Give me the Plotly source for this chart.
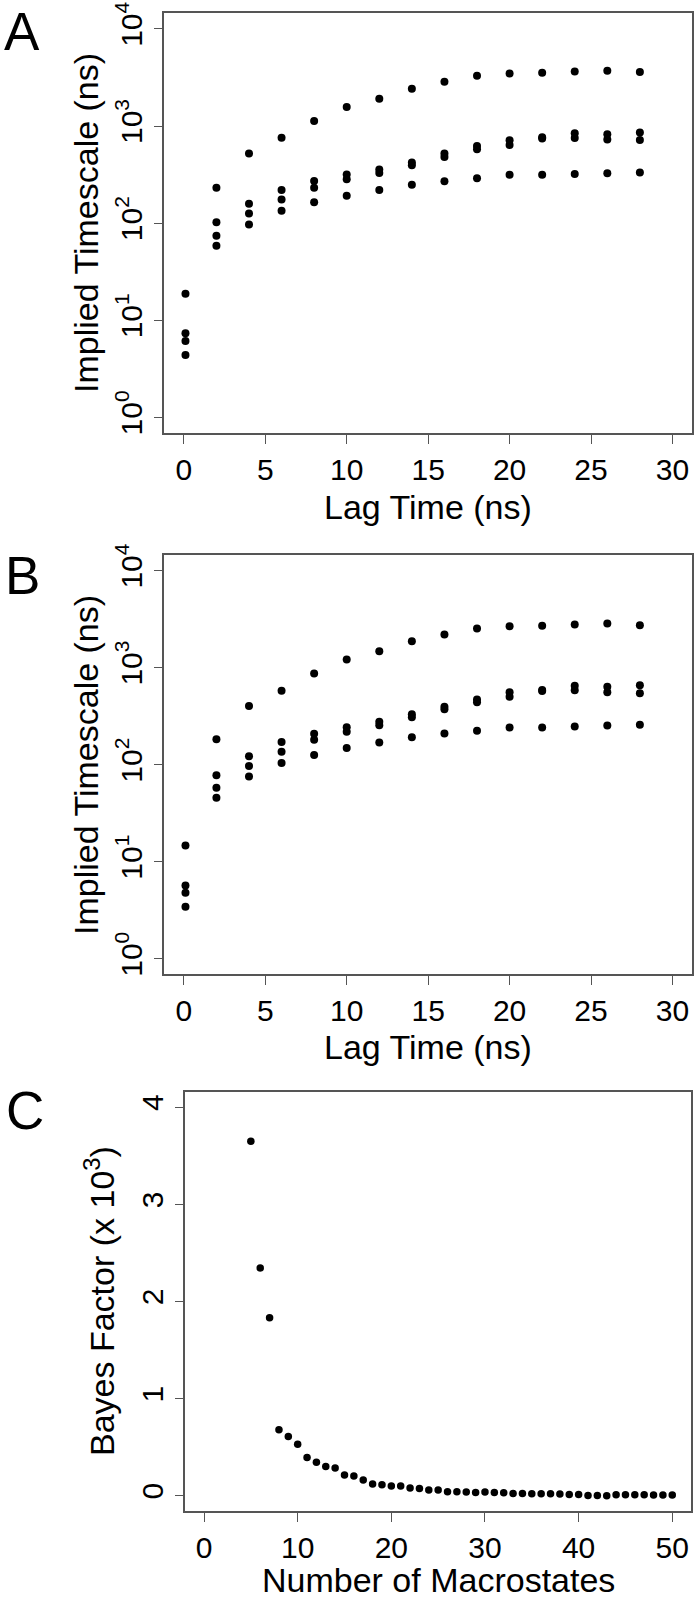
import plotly.graph_objects as go

# ---------------- data ----------------
lag_times = [0.1, 2, 4, 6, 8, 10, 12, 14, 16, 18, 20, 22, 24, 26, 28]

# Panel A: implied timescales (ns), four slowest processes
a_ts1 = [18.8, 232, 520, 759, 1125, 1567, 1910, 2421, 2853, 3289, 3478, 3533, 3648, 3700, 3590]
a_ts2 = [7.35, 102, 158, 220, 272, 316, 356, 420, 520, 624, 712, 765, 842, 820, 855]
a_ts3 = [6.12, 74, 126, 175, 232, 283, 329, 394, 481, 575, 638, 745, 753, 724, 718]
a_ts4 = [4.40, 58.5, 97, 134, 164, 191, 220, 249, 270, 290, 314, 314, 321, 326, 332]

# Panel B: implied timescales (ns)
b_ts1 = [14.7, 183, 403, 578, 871, 1213, 1477, 1870, 2189, 2522, 2666, 2706, 2773, 2838, 2728]
b_ts2 = [5.70, 77.8, 122, 171, 208, 243, 276, 331, 396, 468, 556, 587, 651, 636, 656]
b_ts3 = [4.79, 57.7, 96.9, 136, 180, 218, 255, 308, 372, 439, 502, 574, 584, 556, 543]
b_ts4 = [3.43, 45.5, 75.3, 104, 126, 148, 169, 191, 209, 223, 242, 242, 247, 253, 257]

# Panel C: Bayes factor (x 10^3) vs number of macrostates
macrostates = list(range(5, 51))
bayes_factor = [3.651, 2.346, 1.832, 0.679, 0.610, 0.531, 0.393, 0.345, 0.300, 0.286,
                0.214, 0.203, 0.162, 0.121, 0.114, 0.100, 0.100, 0.079, 0.076, 0.059,
                0.059, 0.041, 0.041, 0.038, 0.034, 0.038, 0.034, 0.031, 0.024, 0.024,
                0.021, 0.021, 0.021, 0.017, 0.014, 0.014, 0.002, 0.002, 0.0, 0.010,
                0.010, 0.010, 0.010, 0.007, 0.007, 0.007]

log_tickvals = [1, 10, 100, 1000, 10000]
log_ticktext = ["10<sup>0</sup>", "10<sup>1</sup>", "10<sup>2</sup>", "10<sup>3</sup>", "10<sup>4</sup>"]
x_ticks_ab = [0, 5, 10, 15, 20, 25, 30]
x_ticks_c = [0, 10, 20, 30, 40, 50]
y_ticks_c = [0, 1, 2, 3, 4]

# ---------------- figure ----------------
W, H = 698, 1600
FONT = "Liberation Sans, Arial, Helvetica, sans-serif"
LINE = "#555555"
marker = dict(color="black", size=8, line=dict(width=0))

fig = go.Figure()
for s in (a_ts1, a_ts2, a_ts3, a_ts4):
    fig.add_trace(go.Scatter(x=lag_times, y=s, mode="markers", marker=marker,
                             xaxis="x", yaxis="y", showlegend=False))
for s in (b_ts1, b_ts2, b_ts3, b_ts4):
    fig.add_trace(go.Scatter(x=lag_times, y=s, mode="markers", marker=marker,
                             xaxis="x2", yaxis="y2", showlegend=False))
fig.add_trace(go.Scatter(x=macrostates, y=bayes_factor, mode="markers",
                         marker=dict(color="black", size=7.5, line=dict(width=0)),
                         xaxis="x3", yaxis="y3", showlegend=False))

def px_y(top, bottom):
    return [1 - bottom / H, 1 - top / H]

def px_x(left, right):
    return [left / W, right / W]

common = dict(showline=True, mirror=True, linecolor=LINE, linewidth=1.5,
              ticks="outside", ticklen=9, tickwidth=1.3, tickcolor=LINE,
              showgrid=False, zeroline=False, automargin=False,
              tickfont=dict(family=FONT, size=30, color="black"))

fig.update_layout(
    template="none",
    width=W, height=H, autosize=False,
    margin=dict(l=0, r=0, t=0, b=0, pad=0),
    paper_bgcolor="white", plot_bgcolor="white",
    font=dict(family=FONT, color="black"),
    xaxis=dict(domain=px_x(164.3, 692), range=[-1.2, 31.2], tickvals=x_ticks_ab,
               anchor="y", **common),
    yaxis=dict(domain=px_y(13.3, 433), type="log", range=[-0.16, 4.16],
               tickvals=log_tickvals, ticktext=log_ticktext, tickangle=-90,
               anchor="x", **common),
    xaxis2=dict(domain=px_x(164.3, 692), range=[-1.2, 31.2], tickvals=x_ticks_ab,
                anchor="y2", **common),
    yaxis2=dict(domain=px_y(555, 974.3), type="log", range=[-0.16, 4.16],
                tickvals=log_tickvals, ticktext=log_ticktext, tickangle=-90,
                anchor="x2", **common),
    xaxis3=dict(domain=px_x(185.3, 691), range=[-2, 52], tickvals=x_ticks_c,
                anchor="y3", **common),
    yaxis3=dict(domain=px_y(1091.7, 1511.3), range=[-0.16, 4.16],
                tickvals=y_ticks_c, tickangle=-90, anchor="x3", **common),
)

def ann(text, x, y, size, angle=0):
    fig.add_annotation(text=text, x=x / W, y=1 - y / H, xref="paper", yref="paper",
                       showarrow=False, textangle=angle, xanchor="center", yanchor="middle",
                       font=dict(family=FONT, size=size, color="black"))

# panel letters
ann("A", 22, 31, 53)
ann("B", 23, 575, 53)
ann("C", 25, 1110, 53)

# axis titles
ann("Implied Timescale (ns)", 86, 223, 34, -90)
ann("Implied Timescale (ns)", 86, 765, 34, -90)
ann("Bayes Factor (x 10<sup>3</sup>)", 99, 1301, 34, -90)
ann("Lag Time (ns)", 428, 506.7, 34)
ann("Lag Time (ns)", 428, 1046.7, 34)
ann("Number of Macrostates", 438, 1580, 34)

fig.write_html("out.html",
               config={"displayModeBar": False},
               post_script="document.body.style.margin='0';document.body.style.padding='0';"
                           "document.documentElement.style.overflow='hidden';"
                           "document.body.style.overflow='hidden';")
